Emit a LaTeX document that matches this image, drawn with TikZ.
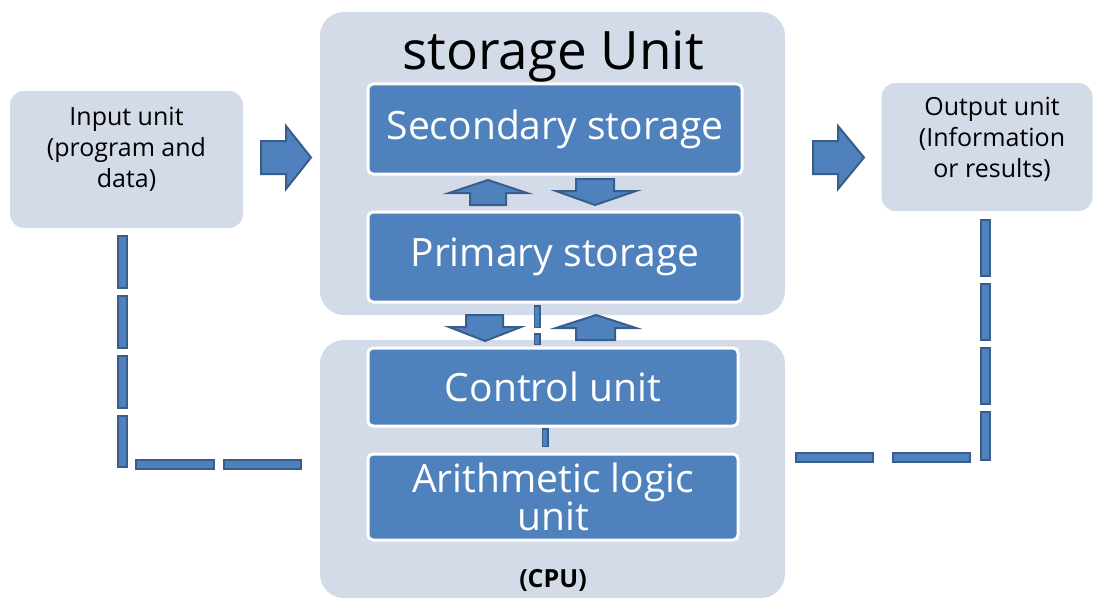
\documentclass[tikz,border=0pt]{standalone}
\usepackage{fontspec}
\setmainfont{Open Sans}
\definecolor{boxblue}{HTML}{4F81BD}
\definecolor{edgeblue}{HTML}{385D8A}
\definecolor{paleblue}{HTML}{D3DAE8}
\tikzset{
 outerbox/.style={fill=paleblue, rounded corners=24pt, inner sep=0pt},
 sidebox/.style={fill=paleblue, rounded corners=14pt, inner sep=0pt},
 sidetext/.style={align=center, font=\fontsize{25}{31}\selectfont},
 unitbox/.style={fill=boxblue, draw=white, line width=3pt, rounded corners=5pt,
   text=white, align=center, inner sep=0pt, font=\fontsize{39}{38}\selectfont},
 blockarrow/.style={fill=boxblue, draw=edgeblue, line width=2pt, line join=miter},
 dashlink/.style={draw=edgeblue, line width=2pt, double=boxblue, double distance=7pt, line cap=rect},
 smalllink/.style={draw=edgeblue, line width=1.5pt, double=boxblue, double distance=4pt, line cap=rect}
}
\begin{document}
\begin{tikzpicture}[x=1pt,y=-1pt]
 \useasboundingbox[fill=white] (0,0) rectangle (1094,599);
 % side units
 \node[sidebox, minimum width=233pt, minimum height=137pt] (input) at (126.5,159.5) {};
 \node[sidetext] (intext) at (126.5,149) {Input unit\\(program and\\data)};
 \node[sidebox, minimum width=211pt, minimum height=128pt] (output) at (987,147) {};
 \node[sidetext] (outtext) at (992,139) {Output unit\\(Information\\or results)};
 % storage unit
 \node[outerbox, minimum width=465pt, minimum height=303pt] (storage) at (552.5,163.5) {};
 \node[font=\fontsize{53}{56}\selectfont] (stitle) at (553,56) {storage Unit};
 \node[unitbox, minimum width=374pt, minimum height=90pt] (secondary) at (555,129) {Secondary storage};
 \node[unitbox, minimum width=374pt, minimum height=90pt] (primary) at (555,257) {Primary storage};
 % cpu
 \node[outerbox, minimum width=465pt, minimum height=258pt] (cpu) at (552.5,469) {};
 \node[unitbox, minimum width=370pt, minimum height=78pt] (control) at (553,387) {Control unit};
 \node[unitbox, minimum width=370pt, minimum height=86pt] (alu) at (553,497) {Arithmetic logic\\unit};
 \node[font=\bfseries\fontsize{25}{28}\selectfont] (cpulabel) at (553,580) {(CPU)};
 % block arrows
 \draw[blockarrow] (261,141)--(286,141)--(286,126)--(311,157.5)--(286,189)--(286,174)--(261,174)--cycle;
 \draw[blockarrow] (813,141)--(838,141)--(838,126)--(864,157.5)--(838,189)--(838,174)--(813,174)--cycle;
 \draw[blockarrow] (470,205)--(470,193)--(449,193)--(488,180)--(527,193)--(506,193)--(506,205)--cycle;
 \draw[blockarrow] (576,179)--(614,179)--(614,191)--(636,191)--(595,205)--(556,191)--(576,191)--cycle;
 \draw[blockarrow] (466,315)--(503,315)--(503,327)--(521,327)--(485,341)--(449,327)--(466,327)--cycle;
 \draw[blockarrow] (576,340)--(576,328)--(556,328)--(596,315)--(636,328)--(615,328)--(615,340)--cycle;
 % dashed links
 \coordinate (lcorner) at (122,462.5);
 \coordinate (rcorner) at (985,455.5);
 \draw[dashlink, dash pattern=on 43pt off 17pt] ([xshift=-4.5pt,yshift=-12.5pt]input.south) -- (lcorner);
 \draw[dashlink, dash pattern=on 69pt off 19pt] (140.5,464) -- ([xshift=-23.5pt]cpu.west |- 0,464);
 \draw[dashlink, dash pattern=on 47pt off 17pt] ([xshift=-2pt,yshift=-13.5pt]output.south) -- (rcorner);
 \draw[dashlink, dash pattern=on 68pt off 29pt] ([xshift=15.5pt]cpu.east |- 0,457) -- (965.5,457);
 \draw[smalllink, dash pattern=on 16pt off 12pt] ([xshift=-18pt,yshift=-5pt]primary.south) -- ([xshift=-18pt,yshift=5pt]control.north -| primary.south);
 \draw[smalllink, dash pattern=on 12pt off 10pt] ([xshift=-8pt,yshift=-4pt]control.south) -- ([xshift=-8pt,yshift=3pt]alu.north);
\end{tikzpicture}
\end{document}
